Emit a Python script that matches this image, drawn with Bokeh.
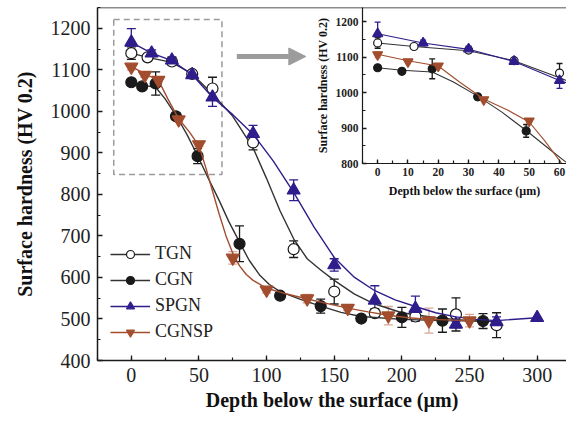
from bokeh.plotting import figure
from bokeh.models import (ColumnDataSource, Whisker, TeeHead, Span, Arrow, NormalHead,
                          Legend, LegendItem, SingleIntervalTicker)
from bokeh.layouts import column
from bokeh.embed import file_html
from bokeh.resources import INLINE

# ---------------- data ----------------
tgn_x = [0, 12, 30, 45, 60, 90, 120, 150, 180, 210, 240, 270]
tgn_y = [1140, 1130, 1120, 1090, 1055, 925, 668, 566, 514, 506, 511, 485]
tgn_err = [15, 8, 8, 8, 27, 18, 20, 30, 10, 10, 40, 30]
tgn_fit_x = [0, 12, 30, 45, 60, 75, 90, 100, 110, 120, 130, 140, 150, 165, 180, 200, 225, 250, 270]
tgn_fit_y = [1140, 1130, 1118, 1090, 1042, 988, 912, 838, 760, 693, 645, 618, 593, 560, 536, 515, 503, 496, 493]

cgn_x = [0, 8, 18, 33, 49, 80, 110, 140, 170, 200, 230, 260]
cgn_y = [1070, 1060, 1067, 988, 892, 681, 556, 531, 501, 504, 496, 495]
cgn_err = [6, 5, 28, 8, 18, 43, 8, 17, 5, 24, 28, 18]
cgn_fit_x = [0, 8, 18, 25, 33, 41, 49, 57, 65, 72, 80, 87, 95, 102, 110, 125, 140, 155, 170, 200, 230, 260]
cgn_fit_y = [1070, 1063, 1058, 1030, 990, 945, 893, 838, 785, 735, 685, 642, 605, 583, 566, 547, 531, 516, 506, 499, 496, 495]

spgn_x = [0, 15, 30, 45, 60, 90, 120, 150, 180, 210, 240, 270, 300]
spgn_y = [1166, 1140, 1123, 1088, 1034, 946, 810, 630, 545, 525, 487, 493, 503]
spgn_err = [33, 8, 8, 6, 22, 20, 25, 15, 35, 30, 8, 12, 0]
spgn_fit_x = [0, 15, 30, 45, 60, 75, 90, 105, 120, 135, 150, 165, 180, 195, 210, 225, 240, 255, 270, 300]
spgn_fit_y = [1166, 1140, 1122, 1088, 1034, 992, 945, 880, 805, 722, 648, 600, 568, 546, 530, 515, 505, 499, 496, 503]

cgnsp_x = [0, 10, 20, 35, 50, 75, 100, 130, 160, 190, 220, 250]
cgnsp_y = [1107, 1087, 1075, 980, 920, 647, 570, 549, 526, 508, 496, 496]
cgnsp_err = [8, 5, 5, 5, 5, 15, 8, 10, 6, 22, 30, 15]
cgnsp_fit_x = [0, 10, 20, 27, 35, 43, 50, 55, 60, 65, 70, 75, 80, 85, 90, 100, 115, 130, 145, 160, 175, 190, 205, 220, 250]
cgnsp_fit_y = [1108, 1090, 1075, 1030, 982, 950, 917, 865, 808, 752, 700, 658, 628, 607, 593, 574, 560, 548, 537, 526, 517, 509, 503, 499, 496]

labels = ["TGN", "CGN", "SPGN", "CGNSP"]

# zoom box and arrow (data coordinates of annotations)
zoom_box = dict(left=-13, right=67, bottom=848, top=1221)
arrow_pos = dict(x_start=78, x_end=129, y=1132)

# ---------------- styles ----------------
SERIF = "Liberation Serif"
BLACK = "#1a1a1a"
NAVY = "#2f1d8c"
BROWN = "#a24d2e"
LIGHT_BROWN = "#dba596"

series = [
    dict(x=tgn_x, y=tgn_y, e=tgn_err, fx=tgn_fit_x, fy=tgn_fit_y, marker="circle",
         color=BLACK, fill="white", ecolor=BLACK, line="#333333"),
    dict(x=cgn_x, y=cgn_y, e=cgn_err, fx=cgn_fit_x, fy=cgn_fit_y, marker="circle",
         color=BLACK, fill=BLACK, ecolor=BLACK, line="#333333"),
    dict(x=spgn_x, y=spgn_y, e=spgn_err, fx=spgn_fit_x, fy=spgn_fit_y, marker="triangle",
         color=NAVY, fill=NAVY, ecolor=NAVY, line=NAVY),
    dict(x=cgnsp_x, y=cgnsp_y, e=cgnsp_err, fx=cgnsp_fit_x, fy=cgnsp_fit_y, marker="inverted_triangle",
         color=BROWN, fill=BROWN, ecolor=LIGHT_BROWN, line=BROWN),
]


def add_series(fig, s, size, lw, cap, xmax=None):
    idx = [i for i, xv in enumerate(s["x"]) if xmax is None or xv <= xmax]
    xs = [s["x"][i] for i in idx]
    ys = [s["y"][i] for i in idx]
    es = [s["e"][i] for i in idx]
    src = ColumnDataSource(dict(x=xs, y=ys,
                                lo=[a - b for a, b in zip(ys, es)],
                                hi=[a + b for a, b in zip(ys, es)]))
    w = Whisker(source=src, base="x", upper="hi", lower="lo", level="underlay",
                line_color=s["ecolor"], line_width=1.3,
                upper_head=TeeHead(size=cap, line_color=s["ecolor"], line_width=1.3),
                lower_head=TeeHead(size=cap, line_color=s["ecolor"], line_width=1.3))
    fig.add_layout(w)
    ln = fig.line(s["fx"], s["fy"], line_color=s["line"], line_width=lw)
    msize = size + (2 if s["marker"] != "circle" else 0)
    sc = fig.scatter("x", "y", source=src, marker=s["marker"], size=msize,
                     fill_color=s["fill"], line_color=s["color"], line_width=1.2)
    return ln, sc


def style_axes(fig, tick_size, label_size, tick_weight, xint, yint):
    for ax in (fig.xaxis[0], fig.yaxis[0]):
        ax.axis_line_color = BLACK
        ax.axis_line_width = 1.5
        ax.major_tick_in = 5
        ax.major_tick_out = 0
        ax.minor_tick_in = 3
        ax.minor_tick_out = 0
        ax.major_tick_line_color = BLACK
        ax.minor_tick_line_color = BLACK
        ax.major_tick_line_width = 1.3
        ax.minor_tick_line_width = 1.2
        ax.major_label_text_font = SERIF
        ax.major_label_text_font_size = tick_size
        ax.major_label_text_font_style = tick_weight
        ax.major_label_text_color = "#222222"
        ax.axis_label_text_font = SERIF
        ax.axis_label_text_font_size = label_size
        ax.axis_label_text_font_style = "bold"
        ax.axis_label_text_color = "#111111"
    fig.xaxis[0].ticker = SingleIntervalTicker(interval=xint, num_minor_ticks=2)
    fig.yaxis[0].ticker = SingleIntervalTicker(interval=yint, num_minor_ticks=2)


MAIN_H = 420

# ---------------- main figure ----------------
p = figure(width=566, height=MAIN_H, x_range=(-25, 321.7), y_range=(400, 1250),
           output_backend="svg", toolbar_location=None, frame_align=False,
           min_border_left=97, min_border_right=0, min_border_top=7, min_border_bottom=60)
p.outline_line_color = None
p.grid.visible = False
p.xaxis.axis_label = "Depth below the surface (µm)"
p.yaxis.axis_label = "Surface hardness (HV 0.2)"
style_axes(p, "20px", "20px", "normal", 50, 100)
p.xaxis.major_label_standoff = 7
p.yaxis.major_label_standoff = 7
p.xaxis.axis_label_standoff = 4
p.yaxis.axis_label_standoff = 12

p.add_layout(Span(location=1250, dimension="width", line_color=BLACK, line_width=1.5))

p.quad(left=[zoom_box["left"]], right=[zoom_box["right"]],
       bottom=[zoom_box["bottom"]], top=[zoom_box["top"]],
       fill_color=None, line_color="#9a9a9a", line_dash="6 4", line_width=1.5)

p.add_layout(Arrow(x_start=arrow_pos["x_start"], y_start=arrow_pos["y"],
                   x_end=arrow_pos["x_end"], y_end=arrow_pos["y"],
                   line_color="#9c9c9c", line_width=5,
                   end=NormalHead(size=17, fill_color="#9c9c9c", line_color="#9c9c9c")))

items = []
for lab, s in zip(labels, series):
    ln, sc = add_series(p, s, size=11, lw=1.4, cap=9)
    items.append(LegendItem(label=lab, renderers=[ln, sc]))

legend = Legend(items=items, location=(13, 18), border_line_color=None,
                background_fill_alpha=0, label_text_font=SERIF,
                label_text_font_size="18px", label_text_color="#222222",
                glyph_width=40, glyph_height=20, label_height=20,
                spacing=5, padding=0, margin=0, label_standoff=5)
p.add_layout(legend)

# ---------------- inset figure ----------------
q = figure(width=254, height=200, x_range=(-5, 62.3), y_range=(800, 1240),
           output_backend="svg", toolbar_location=None, frame_align=False,
           min_border_left=50, min_border_right=0, min_border_top=7, min_border_bottom=37)
q.outline_line_color = None
q.grid.visible = False
q.background_fill_alpha = 0
q.border_fill_alpha = 0
q.xaxis.axis_label = "Depth below the surface (µm)"
q.yaxis.axis_label = "Surface hardness (HV 0.2)"
style_axes(q, "11.5px", "12px", "bold", 10, 100)
q.xaxis.axis_line_width = 1.2
q.yaxis.axis_line_width = 1.2
q.xaxis.major_tick_in = 4
q.yaxis.major_tick_in = 4
q.xaxis.major_label_standoff = 4
q.yaxis.major_label_standoff = 4
q.xaxis.axis_label_standoff = 5
q.yaxis.axis_label_standoff = 3

for s in series:
    add_series(q, s, size=8, lw=1.1, cap=6, xmax=62)

q.margin = (-MAIN_H, 0, 0, 312)

layout = column(p, q)
open("out.html", "w").write(file_html(layout, INLINE))
